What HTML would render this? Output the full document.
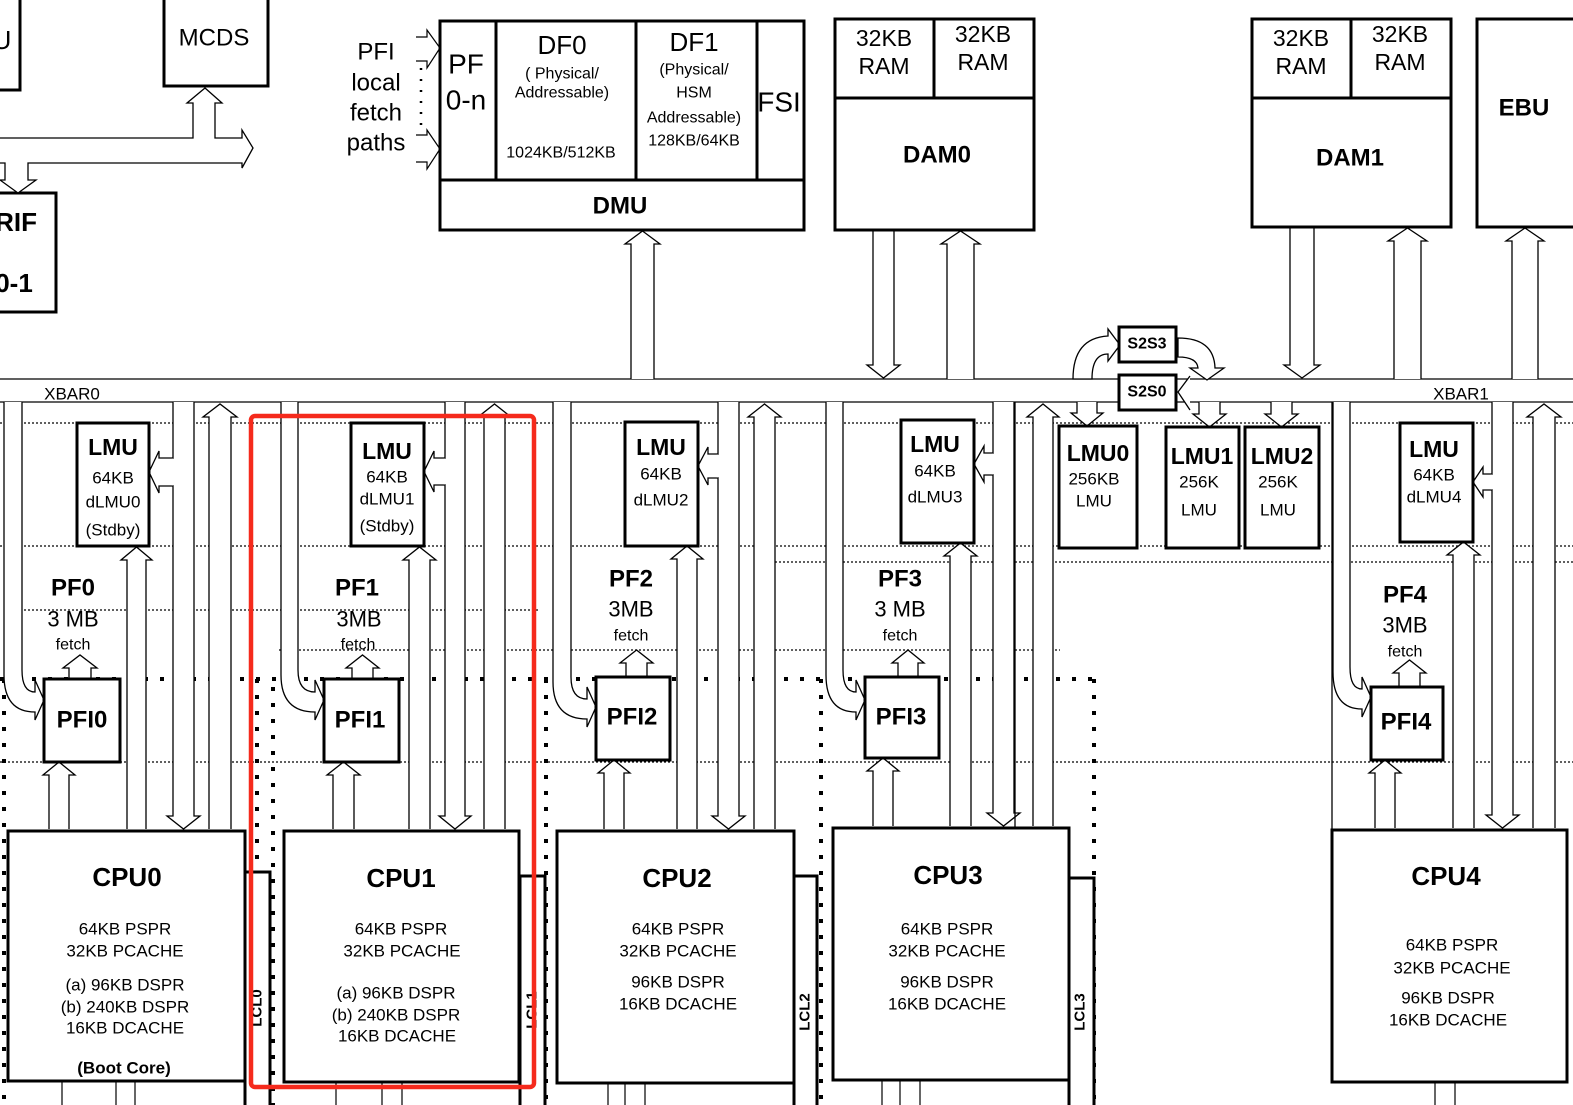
<!DOCTYPE html>
<html><head><meta charset="utf-8"><style>
html,body{margin:0;padding:0;background:#fff;}
svg{display:block;}
text{font-family:"Liberation Sans",sans-serif;fill:#000;dominant-baseline:central;text-anchor:middle;}
.b{font-weight:bold;}
</style></head><body>
<svg id="s" width="1573" height="1105" viewBox="0 0 1573 1105" xmlns="http://www.w3.org/2000/svg">
<rect width="1573" height="1105" fill="#fff"/>
<g id="grid" fill="none" stroke="#000">
 <g stroke-width="1.3" stroke-dasharray="2 2">
  <line x1="0" y1="423" x2="1573" y2="423"/>
  <line x1="0" y1="546" x2="1573" y2="546"/>
  <line x1="775" y1="562" x2="1573" y2="562"/>
  <line x1="20" y1="610" x2="540" y2="610"/>
  <line x1="279" y1="650" x2="1060" y2="650"/>
  <line x1="0" y1="762" x2="1573" y2="762"/>
 </g>
 <g stroke-width="4" stroke-dasharray="4 12">
  <line x1="0" y1="679" x2="1095" y2="679"/>
  <line x1="4" y1="679" x2="4" y2="1105"/>
  <line x1="257" y1="679" x2="257" y2="1105"/>
  <line x1="273" y1="687" x2="273" y2="1105"/>
  <line x1="546" y1="679" x2="546" y2="1105"/>
  <line x1="821" y1="679" x2="821" y2="1105"/>
  <line x1="1094" y1="679" x2="1094" y2="1105"/>
 </g>
</g>
<!-- bus -->
<line x1="0" y1="379" x2="1573" y2="379" stroke="#000" stroke-width="1.3"/>
<line x1="0" y1="402" x2="1573" y2="402" stroke="#000" stroke-width="1.3"/>
<text x="72" y="394" font-size="17">XBAR0</text>
<text x="1461" y="394" font-size="17">XBAR1</text>
<g id="arrows" fill="#fff" stroke="#000" stroke-width="1.3"></g>

<!-- top-left -->
<g fill="#fff" stroke="#000" stroke-width="3">
 <rect x="-5" y="-5" width="25" height="95"/>
 <rect x="164" y="-5" width="104" height="91"/>
 <rect x="-5" y="193" width="61" height="119"/>
</g>
<polyline fill="#fff" stroke="#000" stroke-width="1.3" points="0,138 193,138 193,103 187,103 205,88 222,103 215,103 215,138 242,138 242,130 253,148 242,168 242,163 28,163 28,180 36,180 18,193 0,180 5,180 5,163 0,163"/>
<text x="2" y="40" font-size="26">U</text>
<text x="214" y="38" font-size="24">MCDS</text>
<text x="16" y="222" font-size="26" class="b">RIF</text>
<text x="14" y="283" font-size="26" class="b">0-1</text>

<text x="376" y="52" font-size="24">PFI</text>
<text x="376" y="83" font-size="24">local</text>
<text x="376" y="113" font-size="24">fetch</text>
<text x="376" y="143" font-size="24">paths</text>
<polyline fill="none" stroke="#000" stroke-width="1.2" points="416,37 427,37 427,30 440,48 427,68 427,61 416,61"/>
<polyline fill="none" stroke="#000" stroke-width="1.2" points="416,135 427,135 427,130 440,149 427,169 427,162 416,162"/>
<line x1="421" y1="68" x2="421" y2="130" stroke="#000" stroke-width="2.5" stroke-dasharray="2 9"/>

<!-- DMU -->
<g fill="#fff" stroke="#000" stroke-width="3">
 <rect x="440" y="21" width="364" height="209"/>
 <line x1="440" y1="180" x2="804" y2="180"/>
 <line x1="496" y1="21" x2="496" y2="180"/>
 <line x1="636" y1="21" x2="636" y2="180"/>
 <line x1="757" y1="21" x2="757" y2="180"/>
</g>
<text x="466" y="64" font-size="28">PF</text>
<text x="466" y="100" font-size="28">0-n</text>
<text x="562" y="45" font-size="26">DF0</text>
<text x="562" y="74" font-size="16">( Physical/</text>
<text x="562" y="93" font-size="16">Addressable)</text>
<text x="561" y="153" font-size="16">1024KB/512KB</text>
<text x="694" y="42" font-size="26">DF1</text>
<text x="694" y="70" font-size="16">(Physical/</text>
<text x="694" y="93" font-size="16">HSM</text>
<text x="694" y="118" font-size="16">Addressable)</text>
<text x="694" y="141" font-size="16">128KB/64KB</text>
<text x="779" y="102" font-size="28">FSI</text>
<text x="620" y="206" font-size="24" class="b">DMU</text>

<!-- DAM -->
<g fill="#fff" stroke="#000" stroke-width="3">
 <rect x="835" y="19" width="199" height="211"/>
 <line x1="835" y1="98" x2="1034" y2="98"/>
 <line x1="934" y1="19" x2="934" y2="98"/>
 <rect x="1252" y="19" width="199" height="208"/>
 <line x1="1252" y1="98" x2="1451" y2="98"/>
 <line x1="1351" y1="19" x2="1351" y2="98"/>
 <rect x="1477" y="19" width="110" height="208"/>
</g>
<g font-size="23">
<text x="884" y="38">32KB</text><text x="884" y="66">RAM</text>
<text x="983" y="34">32KB</text><text x="983" y="62">RAM</text>
<text x="1301" y="38">32KB</text><text x="1301" y="66">RAM</text>
<text x="1400" y="34">32KB</text><text x="1400" y="62">RAM</text>
</g>
<text x="937" y="155" font-size="24" class="b">DAM0</text>
<text x="1350" y="158" font-size="24" class="b">DAM1</text>
<text x="1524" y="108" font-size="24" class="b">EBU</text>

<!-- S2S -->
<path fill="#fff" stroke="#000" stroke-width="1.3" d="M1073,379 Q1073,338 1108,336 L1108,329 L1120,345 L1108,361 L1108,354 Q1092,354 1092,379 Z"/>
<path fill="#fff" stroke="#000" stroke-width="1.3" d="M1178,338 Q1214,338 1215,368 L1224,368 L1207,380 L1190,368 L1198,368 Q1197,357 1178,357 Z"/>
<polyline fill="#fff" stroke="#000" stroke-width="1.3" points="1190,376 1178,392 1190,410"/>
<g fill="#fff" stroke="#000" stroke-width="3">
 <rect x="1119" y="327" width="57" height="35"/>
 <rect x="1119" y="375" width="57" height="35"/>
</g>
<text x="1147" y="344" font-size="16" class="b">S2S3</text>
<text x="1147" y="392" font-size="16" class="b">S2S0</text>

<!-- LMUs -->
<g fill="#fff" stroke="#000" stroke-width="3">
 <rect x="77" y="423" width="72" height="123"/>
 <rect x="351" y="423" width="73" height="123"/>
 <rect x="625" y="422" width="73" height="124"/>
 <rect x="901" y="420" width="73" height="123"/>
 <rect x="1400" y="423" width="73" height="119"/>
 <rect x="1059" y="426" width="78" height="122"/>
 <rect x="1166" y="427" width="73" height="121"/>
 <rect x="1245" y="427" width="74" height="121"/>
</g>
<g font-size="17">
<text x="113" y="447" font-size="23" class="b">LMU</text><text x="113" y="478">64KB</text><text x="113" y="502">dLMU0</text><text x="113" y="530">(Stdby)</text>
<text x="387" y="451" font-size="23" class="b">LMU</text><text x="387" y="477">64KB</text><text x="387" y="499">dLMU1</text><text x="387" y="526">(Stdby)</text>
<text x="661" y="447" font-size="23" class="b">LMU</text><text x="661" y="474">64KB</text><text x="661" y="500">dLMU2</text>
<text x="935" y="444" font-size="23" class="b">LMU</text><text x="935" y="471">64KB</text><text x="935" y="497">dLMU3</text>
<text x="1434" y="449" font-size="23" class="b">LMU</text><text x="1434" y="475">64KB</text><text x="1434" y="497">dLMU4</text>
<text x="1098" y="453" font-size="23" class="b">LMU0</text><text x="1094" y="479">256KB</text><text x="1094" y="501">LMU</text>
<text x="1202" y="456" font-size="23" class="b">LMU1</text><text x="1199" y="482">256K</text><text x="1199" y="510">LMU</text>
<text x="1282" y="456" font-size="23" class="b">LMU2</text><text x="1278" y="482">256K</text><text x="1278" y="510">LMU</text>
</g>

<!-- PF labels -->
<text x="73" y="588" font-size="24" class="b">PF0</text><text x="73" y="619" font-size="22">3 MB</text><text x="73" y="645" font-size="16">fetch</text>
<text x="357" y="588" font-size="24" class="b">PF1</text><text x="359" y="619" font-size="22">3MB</text><text x="358" y="645" font-size="16">fetch</text>
<text x="631" y="579" font-size="24" class="b">PF2</text><text x="631" y="609" font-size="22">3MB</text><text x="631" y="636" font-size="16">fetch</text>
<text x="900" y="579" font-size="24" class="b">PF3</text><text x="900" y="609" font-size="22">3 MB</text><text x="900" y="636" font-size="16">fetch</text>
<text x="1405" y="595" font-size="24" class="b">PF4</text><text x="1405" y="625" font-size="22">3MB</text><text x="1405" y="652" font-size="16">fetch</text>

<!-- PFI -->
<g fill="#fff" stroke="#000" stroke-width="3">
 <rect x="44" y="679" width="76" height="83"/>
 <rect x="324" y="679" width="75" height="83"/>
 <rect x="596" y="677" width="74" height="83"/>
 <rect x="865" y="677" width="74" height="81"/>
 <rect x="1371" y="687" width="72" height="73"/>
</g>
<text x="82" y="720" font-size="24" class="b">PFI0</text>
<text x="360" y="720" font-size="24" class="b">PFI1</text>
<text x="632" y="717" font-size="24" class="b">PFI2</text>
<text x="901" y="717" font-size="24" class="b">PFI3</text>
<text x="1406" y="722" font-size="24" class="b">PFI4</text>

<!-- CPUs -->
<g fill="#fff" stroke="#000" stroke-width="3">
 <rect x="245" y="872" width="25" height="240"/>
 <rect x="520" y="876" width="25" height="240"/>
 <rect x="794" y="876" width="23" height="240"/>
 <rect x="1069" y="878" width="25" height="240"/>
 <rect x="8" y="831" width="237" height="250"/>
 <rect x="284" y="831" width="235" height="251"/>
 <rect x="557" y="831" width="237" height="252"/>
 <rect x="833" y="828" width="236" height="252"/>
 <rect x="1332" y="830" width="235" height="252"/>
</g>
<g fill="none" stroke="#000" stroke-width="1.2">
 <line x1="62" y1="1081" x2="62" y2="1105"/><line x1="116" y1="1081" x2="116" y2="1105"/><line x1="135" y1="1081" x2="135" y2="1105"/>
 <line x1="336" y1="1082" x2="336" y2="1105"/><line x1="382" y1="1082" x2="382" y2="1105"/><line x1="402" y1="1082" x2="402" y2="1105"/>
 <line x1="608" y1="1083" x2="608" y2="1105"/><line x1="625" y1="1083" x2="625" y2="1105"/><line x1="645" y1="1083" x2="645" y2="1105"/>
 <line x1="882" y1="1080" x2="882" y2="1105"/><line x1="900" y1="1080" x2="900" y2="1105"/><line x1="920" y1="1080" x2="920" y2="1105"/>
 <line x1="1435" y1="1082" x2="1435" y2="1105"/><line x1="1455" y1="1082" x2="1455" y2="1105"/>
</g>
<g font-size="17">
<text x="127" y="877" font-size="26" class="b">CPU0</text>
<text x="125" y="929">64KB PSPR</text><text x="125" y="951">32KB PCACHE</text>
<text x="125" y="985">(a) 96KB  DSPR</text><text x="125" y="1007">(b) 240KB DSPR</text><text x="125" y="1028">16KB DCACHE</text>
<text x="124" y="1068" class="b">(Boot Core)</text>
<text x="401" y="878" font-size="26" class="b">CPU1</text>
<text x="401" y="929">64KB  PSPR</text><text x="402" y="951">32KB PCACHE</text>
<text x="396" y="993">(a) 96KB  DSPR</text><text x="396" y="1015">(b) 240KB DSPR</text><text x="397" y="1036">16KB DCACHE</text>
<text x="677" y="878" font-size="26" class="b">CPU2</text>
<text x="678" y="929">64KB PSPR</text><text x="678" y="951">32KB  PCACHE</text>
<text x="678" y="982">96KB  DSPR</text><text x="678" y="1004">16KB DCACHE</text>
<text x="948" y="875" font-size="26" class="b">CPU3</text>
<text x="947" y="929">64KB PSPR</text><text x="947" y="951">32KB  PCACHE</text>
<text x="947" y="982">96KB  DSPR</text><text x="947" y="1004">16KB DCACHE</text>
<text x="1446" y="876" font-size="26" class="b">CPU4</text>
<text x="1452" y="945">64KB PSPR</text><text x="1452" y="968">32KB  PCACHE</text>
<text x="1448" y="998">96KB  DSPR</text><text x="1448" y="1020">16KB DCACHE</text>
<text x="257" y="1008" font-size="15" class="b" transform="rotate(-90 257 1008)">LCL0</text>
<text x="532" y="1010" font-size="15" class="b" transform="rotate(-90 532 1010)">LCL1</text>
<text x="805" y="1012" font-size="15" class="b" transform="rotate(-90 805 1012)">LCL2</text>
<text x="1080" y="1012" font-size="15" class="b" transform="rotate(-90 1080 1012)">LCL3</text>
</g>
<rect x="251" y="416" width="283" height="671" rx="4" fill="none" stroke="#f52a1c" stroke-width="4.5"/>

<script>
(function(){
var g=document.getElementById('arrows');var NS='http://www.w3.org/2000/svg';
function pl(pts,closed){var e=document.createElementNS(NS,closed?'polygon':'polyline');e.setAttribute('points',pts.map(function(p){return p.join(',')}).join(' '));g.appendChild(e);return e;}
function path(d){var e=document.createElementNS(NS,'path');e.setAttribute('d',d);g.appendChild(e);}
function up(a,b,t,bot){var hl=13,hw=6,m=(a+b)/2;pl([[a,bot],[a,t+hl],[a-hw,t+hl],[m,t],[b+hw,t+hl],[b,t+hl],[b,bot]]);}
function down(a,b,top,t){var hl=13,hw=6,m=(a+b)/2;pl([[a,top],[a,t-hl],[a-hw,t-hl],[m,t],[b+hw,t-hl],[b,t-hl],[b,top]]);}
function branch(a,tip,y1,y2){var hw=7;pl([[a,y1],[tip+10,y1],[tip+10,y1-hw],[tip,(y1+y2)/2],[tip+10,y2+hw],[tip+10,y2],[a,y2]]);
 var l=document.createElementNS(NS,'line');l.setAttribute('x1',a);l.setAttribute('x2',a);l.setAttribute('y1',y1+0.8);l.setAttribute('y2',y2-0.8);l.setAttribute('stroke','#fff');l.setAttribute('stroke-width','3');g.appendChild(l);}
function curve(a,b,tip,yc){path('M'+a+',402 L'+a+','+(yc-25)+' Q'+a+','+(yc+12)+' '+(tip-9)+','+(yc+12)+' L'+(tip-9)+','+(yc+20)+' L'+tip+','+yc+' L'+(tip-9)+','+(yc-20)+' L'+(tip-9)+','+(yc-8)+' Q'+b+','+(yc-8)+' '+b+','+(yc-30)+' L'+b+',402');}
// top
up(631,654,231,379);up(947,974,231,379);up(1394,1421,228,379);up(1512,1538,228,379);
down(873,894,230,378);down(1290,1314,227,378);
// sections
var S=[[209,231,127,146,547,49,69,762,69,91,655,679,173,194,149,458,486,829],
[484,505,409,430,547,333,354,762,352,373,655,679,445,465,424,458,485,829],
[754,775,677,697,546,604,624,760,626,647,650,677,718,739,698,454,478,829],
[1033,1053,950,971,543,873,893,758,898,918,650,677,993,1014,974,453,475,826],
[1533,1555,1453,1474,542,1375,1395,760,1399,1420,660,687,1492,1513,1473,474,490,828]];
S.forEach(function(s){var bot=s[17];up(s[0],s[1],404,bot);up(s[2],s[3],s[4],bot);up(s[5],s[6],s[7],bot);up(s[8],s[9],s[10],s[11]);down(s[12],s[13],402,bot);branch(s[12],s[14],s[15],s[16]);});
curve(4,22,44,700);curve(281,298,324,700);curve(553,571,596,707);curve(826,843,865,700);curve(1333,1350,1371,697);
down(1077,1097,402,426);down(1199,1220,402,427);down(1271,1292,402,427);
pl([[1015,402],[1015,828]]);pl([[1332,402],[1332,830]]);
})();
</script>
</svg>
</body></html>
